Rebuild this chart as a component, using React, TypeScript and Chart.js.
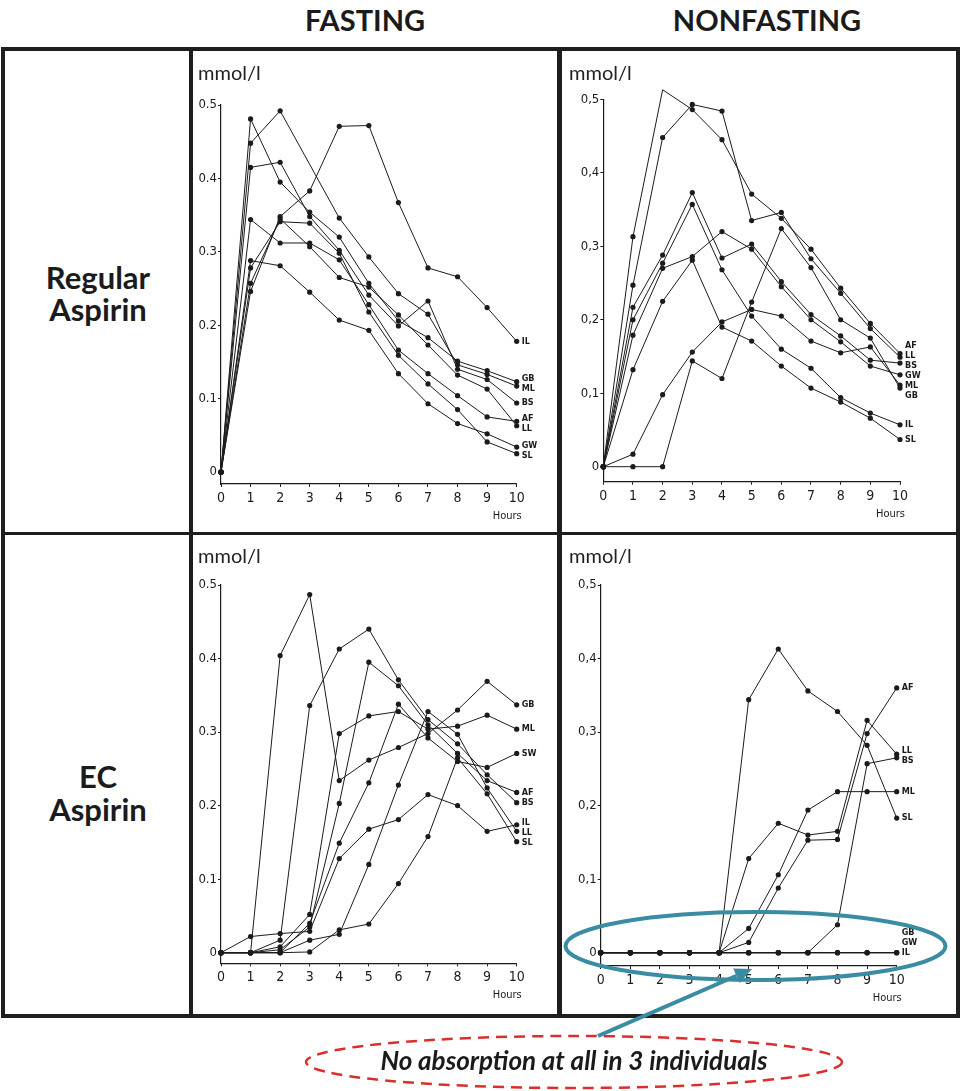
import React, { useEffect, useRef } from 'react';
import { Chart, registerables } from 'chart.js';

Chart.register(...registerables);

// ---------- data ----------
const HOURS = [0, 1, 2, 3, 4, 5, 6, 7, 8, 9, 10];
const Y_TICKS = [0, 0.1, 0.2, 0.3, 0.4, 0.5];
const COLUMN_TITLES = ['FASTING', 'NONFASTING'];
const ROW_TITLES = [['Regular', 'Aspirin'], ['EC', 'Aspirin']];
const UNIT = 'mmol/l';
const X_TITLE = 'Hours';
const NOTE = 'No absorption at all in 3 individuals';

// Regular aspirin, fasting
const FR_CODES = ['IL', 'GB', 'ML', 'BS', 'AF', 'LL', 'GW', 'SL'];
const FR_IL = [0, 0.246, 0.348, 0.383, 0.471, 0.472, 0.367, 0.278, 0.266, 0.224, 0.178];
const FR_GB = [0, 0.481, 0.395, 0.354, 0.32, 0.257, 0.206, 0.183, 0.151, 0.138, 0.123];
const FR_ML = [0, 0.448, 0.492, null, 0.346, 0.293, 0.243, 0.215, 0.146, 0.133, 0.117];
const FR_BS = [0, 0.415, 0.422, 0.348, 0.302, 0.241, 0.199, 0.233, 0.14, 0.126, 0.094];
const FR_AF = [0, 0.344, 0.312, 0.312, 0.289, 0.228, 0.166, 0.134, 0.104, 0.075, 0.069];
const FR_LL = [0, 0.257, 0.345, 0.307, 0.265, 0.252, 0.214, 0.173, 0.132, 0.113, 0.063];
const FR_GW = [0, 0.288, 0.281, 0.245, 0.207, 0.193, 0.134, 0.093, 0.066, 0.052, 0.034];
const FR_SL = [0, 0.278, 0.341, 0.339, 0.298, 0.218, 0.159, 0.12, 0.085, 0.041, 0.025];

// Regular aspirin, nonfasting
const NR_CODES = ['AF', 'LL', 'BS', 'GW', 'ML', 'GB', 'IL', 'SL'];
const NR_AF = [0, 0.313, 0.513, 0.486, 0.445, 0.371, 0.338, 0.296, 0.243, 0.195, 0.154];
const NR_LL = [0, 0.247, 0.448, 0.493, 0.484, 0.335, 0.346, 0.283, 0.236, 0.188, 0.149];
const NR_BS = [0, 0.217, 0.288, 0.373, 0.284, 0.303, 0.252, 0.207, 0.178, 0.145, 0.141];
const NR_GW = [0, 0.179, 0.27, 0.286, 0.32, 0.296, 0.245, 0.2, 0.17, 0.137, 0.125];
const NR_ML = [0, 0.017, 0.098, 0.156, 0.197, 0.214, 0.205, 0.171, 0.155, 0.163, 0.111];
const NR_GB = [0, 0, 0, 0.144, 0.12, 0.224, 0.324, 0.271, 0.2, 0.175, 0.107];
const NR_IL = [0, 0.2, 0.277, 0.357, 0.268, 0.205, 0.16, 0.134, 0.094, 0.073, 0.057];
const NR_SL = [0, 0.132, 0.225, 0.281, 0.19, 0.171, 0.137, 0.107, 0.088, 0.066, 0.037];

// EC aspirin, fasting
const FE_CODES = ['GB', 'ML', 'SW', 'AF', 'BS', 'IL', 'LL', 'SL'];
const FE_GB = [0, 0, 0.404, 0.487, 0.234, 0.262, 0.279, 0.298, 0.33, 0.369, 0.337];
const FE_ML = [0, 0, 0.008, 0.052, 0.298, 0.322, 0.328, 0.304, 0.308, 0.323, 0.304];
const FE_SW = [0, 0, 0, 0.04, 0.149, 0.231, 0.338, 0.292, 0.26, 0.252, 0.271];
const FE_AF = [0, 0, 0.004, 0.035, 0.203, 0.395, 0.363, 0.31, 0.271, 0.234, 0.218];
const FE_BS = [0, 0, 0.017, 0.336, 0.413, 0.44, 0.371, 0.317, 0.284, 0.242, 0.204];
const FE_IL = [0, 0.022, 0.026, 0.029, 0.128, 0.168, 0.181, 0.215, 0.2, 0.165, 0.174];
const FE_LL = [0, 0, 0, 0.017, 0.025, 0.12, 0.228, 0.328, 0.297, 0.224, 0.165];
const FE_SL = [0, 0, 0, 0.001, 0.031, 0.039, 0.094, 0.158, 0.265, 0.216, 0.151];

// EC aspirin, nonfasting
const NE_CODES = ['AF', 'LL', 'BS', 'ML', 'SL', 'GB', 'GW', 'IL'];
const NE_AF = [0, 0, 0, 0, 0, 0.014, 0.088, 0.153, 0.154, 0.298, 0.36];
const NE_LL = [0, 0, 0, 0, 0, 0.128, 0.176, 0.16, 0.165, 0.316, 0.27];
const NE_BS = [0, 0, 0, 0, 0, 0, 0, 0, 0.038, 0.257, 0.265];
const NE_ML = [0, 0, 0, 0, 0, 0.033, 0.106, 0.194, 0.219, 0.219, 0.219];
const NE_SL = [0, 0, 0, 0, 0, 0.344, 0.413, 0.356, 0.328, 0.282, 0.183];
const NE_GB = [0, 0, 0, 0, 0, 0, 0, 0, 0, 0, 0];
const NE_GW = [0, 0, 0, 0, 0, 0, 0, 0, 0, 0, 0];
const NE_IL = [0, 0, 0, 0, 0, 0, 0, 0, 0, 0, 0];

// ---------- styles ----------
const INK = '#1b1b1b';
const TICK_FONT = "'DejaVu Sans Condensed', 'Liberation Sans Narrow', 'DejaVu Sans', sans-serif";
const TEXT_FONT = "Lato, 'Open Sans', 'Noto Sans', sans-serif";
const TEAL = '#3a8ca2';
const RED = '#d9302c';

type Box = { left: number; top: number; width: number; height: number };
type Area = { left: number; right: number; top: number; zero: number; bottom: number };
type Panel = { codes: string[]; series: (number | null)[][]; decimal: string; box: Box; area: Area };

const PANELS: Panel[] = [
  {
    codes: FR_CODES,
    series: [FR_IL, FR_GB, FR_ML, FR_BS, FR_AF, FR_LL, FR_GW, FR_SL],
    decimal: '.',
    box: { left: 193, top: 51, width: 364, height: 481 },
    area: { left: 221, right: 516.7, top: 105, zero: 472, bottom: 484 },
  },
  {
    codes: NR_CODES,
    series: [NR_AF, NR_LL, NR_BS, NR_GW, NR_ML, NR_GB, NR_IL, NR_SL],
    decimal: ',',
    box: { left: 562, top: 51, width: 394, height: 481 },
    area: { left: 603.3, right: 900, top: 99.3, zero: 466.7, bottom: 481.7 },
  },
  {
    codes: FE_CODES,
    series: [FE_GB, FE_ML, FE_SW, FE_AF, FE_BS, FE_IL, FE_LL, FE_SL],
    decimal: '.',
    box: { left: 193, top: 535, width: 364, height: 479 },
    area: { left: 221, right: 516.7, top: 585, zero: 952.7, bottom: 963.3 },
  },
  {
    codes: NE_CODES,
    series: [NE_AF, NE_LL, NE_BS, NE_ML, NE_SL, NE_GB, NE_GW, NE_IL],
    decimal: ',',
    box: { left: 562, top: 535, width: 394, height: 479 },
    area: { left: 600.7, right: 896.7, top: 585, zero: 952.7, bottom: 966 },
  },
];

const endLabelsPlugin = {
  id: 'endLabels',
  afterDatasetsDraw(chart: any) {
    const { ctx, chartArea, scales } = chart;
    const items = chart.data.datasets.map((ds: any, i: number) => {
      const meta = chart.getDatasetMeta(i);
      const last = meta.data[meta.data.length - 1];
      return { text: ds.label as string, y: last.y as number, i };
    });
    items.sort((a: any, b: any) => a.y - b.y || a.i - b.i);
    const gap = 10;
    const maxY = scales.y.getPixelForValue(0);
    for (let k = 0; k < 300; k++) {
      for (let j = 1; j < items.length; j++) {
        const d = items[j].y - items[j - 1].y;
        if (d < gap) {
          const push = (gap - d) / 2;
          items[j].y += push;
          items[j - 1].y -= push;
        }
      }
      items.forEach((o: any) => {
        if (o.y > maxY) o.y = maxY;
      });
    }
    ctx.save();
    ctx.fillStyle = INK;
    ctx.font = `bold 9px ${TICK_FONT}`;
    ctx.textAlign = 'left';
    ctx.textBaseline = 'middle';
    items.forEach((o: any) => ctx.fillText(o.text, chartArea.right + 5, o.y));
    ctx.font = `11px ${TICK_FONT}`;
    ctx.textAlign = 'right';
    ctx.fillText(X_TITLE, chartArea.right + 5, chartArea.bottom + 32);
    ctx.restore();
  },
};

function PanelChart({ panel }: { panel: Panel }) {
  const ref = useRef<HTMLCanvasElement>(null);
  useEffect(() => {
    const { box, area } = panel;
    const cl = area.left - box.left;
    const cr = area.right - box.left;
    const ct = area.top - box.top;
    const cb = area.bottom - box.top;
    const xAxisH = 30;
    const yMin = -((area.bottom - area.zero) / (area.zero - area.top)) * 0.5;
    const chart = new Chart(ref.current as HTMLCanvasElement, {
      type: 'line',
      data: {
        datasets: panel.codes.map((code, i) => ({
          label: code,
          data: HOURS.map((h, j) => ({ x: h, y: panel.series[i][j] })),
          borderColor: INK,
          backgroundColor: INK,
          borderWidth: 1,
          pointRadius: 2.6,
          pointHoverRadius: 2.6,
          pointBorderWidth: 0,
          tension: 0,
          spanGaps: true,
          clip: false,
        })),
      } as any,
      options: {
        animation: false,
        responsive: false,
        maintainAspectRatio: false,
        events: [],
        layout: {
          padding: { left: 0, top: ct, right: box.width - cr, bottom: box.height - cb - xAxisH },
        },
        plugins: { legend: { display: false }, tooltip: { enabled: false } },
        scales: {
          x: {
            type: 'linear',
            min: 0,
            max: 10,
            afterFit: (s: any) => {
              s.height = xAxisH;
            },
            afterBuildTicks: (s: any) => {
              s.ticks = HOURS.map((v) => ({ value: v }));
            },
            grid: { drawOnChartArea: false, drawTicks: true, tickLength: 3, color: INK },
            border: { display: true, color: INK, width: 1.2 },
            ticks: {
              color: INK,
              font: { family: TICK_FONT, size: 14 },
              padding: 3,
              maxRotation: 0,
              autoSkip: false,
              callback: (v: any) => String(v),
            },
          },
          y: {
            type: 'linear',
            min: yMin,
            max: 0.5,
            afterFit: (s: any) => {
              s.width = cl;
            },
            afterBuildTicks: (s: any) => {
              s.ticks = Y_TICKS.map((v) => ({ value: v }));
            },
            grid: { drawOnChartArea: false, drawTicks: true, tickLength: 3, color: INK },
            border: { display: true, color: INK, width: 1.2 },
            ticks: {
              color: INK,
              font: { family: TICK_FONT, size: 13 },
              padding: 1,
              callback: (v: any) => (v === 0 ? '0' : Number(v).toFixed(1).replace('.', panel.decimal)),
            },
          },
        },
      } as any,
      plugins: [endLabelsPlugin],
    });
    return () => chart.destroy();
  }, [panel]);
  const { box } = panel;
  return (
    <canvas
      ref={ref}
      width={box.width}
      height={box.height}
      style={{ position: 'absolute', left: box.left, top: box.top, width: box.width, height: box.height }}
    />
  );
}

const BORDERS = [
  { left: 1, top: 47, width: 959, height: 4 },
  { left: 1, top: 1014, width: 959, height: 4 },
  { left: 1, top: 47, width: 4, height: 971 },
  { left: 956, top: 47, width: 4, height: 971 },
  { left: 189, top: 47, width: 4, height: 971 },
  { left: 557, top: 47, width: 5, height: 971 },
  { left: 1, top: 532, width: 959, height: 3 },
];

function Label({ text, cx, top, size, weight, style }: any) {
  return (
    <div
      style={{
        position: 'absolute',
        left: cx - 250,
        width: 500,
        top,
        textAlign: 'center',
        fontFamily: TEXT_FONT,
        fontSize: size,
        fontWeight: weight,
        fontStyle: style || 'normal',
        lineHeight: 1,
        color: INK,
        whiteSpace: 'nowrap',
      }}
    >
      {text}
    </div>
  );
}

export default function App() {
  const tip = { x: 752, y: 969 };
  const tail = { x: 598, y: 1036 };
  const dx = tip.x - tail.x;
  const dy = tip.y - tail.y;
  const len = Math.hypot(dx, dy);
  const ux = dx / len;
  const uy = dy / len;
  const hl = 17;
  const hw = 8;
  const bx = tip.x - ux * hl;
  const by = tip.y - uy * hl;
  const head = `${tip.x},${tip.y} ${bx - uy * hw},${by + ux * hw} ${bx + uy * hw},${by - ux * hw}`;

  return (
    <div
      style={{ position: 'absolute', left: 0, top: 0, width: 967, height: 1091, background: '#fff', overflow: 'hidden' }}
    >
      <Label text={COLUMN_TITLES[0]} cx={365} top={5} size={29} weight={700} />
      <Label text={COLUMN_TITLES[1]} cx={767} top={5} size={29} weight={700} />
      <Label text={ROW_TITLES[0][0]} cx={98} top={262} size={31} weight={700} />
      <Label text={ROW_TITLES[0][1]} cx={98} top={294} size={31} weight={700} />
      <Label text={ROW_TITLES[1][0]} cx={98} top={761} size={31} weight={700} />
      <Label text={ROW_TITLES[1][1]} cx={98} top={794} size={31} weight={700} />

      {BORDERS.map((b, i) => (
        <div key={i} style={{ position: 'absolute', ...b, background: '#1e1e1e' }} />
      ))}

      {PANELS.map((p, i) => (
        <PanelChart key={i} panel={p} />
      ))}

      {[
        { x: 198, y: 62 },
        { x: 569, y: 62 },
        { x: 198, y: 545 },
        { x: 569, y: 545 },
      ].map((p, i) => (
        <div
          key={i}
          style={{
            position: 'absolute',
            left: p.x,
            top: p.y,
            fontFamily: TEXT_FONT,
            fontSize: 20,
            lineHeight: 1,
            color: '#222',
          }}
        >
          {UNIT}
        </div>
      ))}

      <svg
        width={967}
        height={1091}
        style={{ position: 'absolute', left: 0, top: 0, pointerEvents: 'none' }}
      >
        <ellipse cx={755.5} cy={946} rx={190} ry={34} fill="none" stroke={TEAL} strokeWidth={4} />
        <line x1={tail.x} y1={tail.y} x2={bx} y2={by} stroke={TEAL} strokeWidth={4} />
        <polygon points={head} fill={TEAL} />
        <ellipse
          cx={574}
          cy={1062}
          rx={268}
          ry={26}
          fill="none"
          stroke={RED}
          strokeWidth={2.5}
          strokeDasharray="11 7"
        />
      </svg>

      <Label text={NOTE} cx={574} top={1047} size={26} weight={700} style="italic" />
    </div>
  );
}
